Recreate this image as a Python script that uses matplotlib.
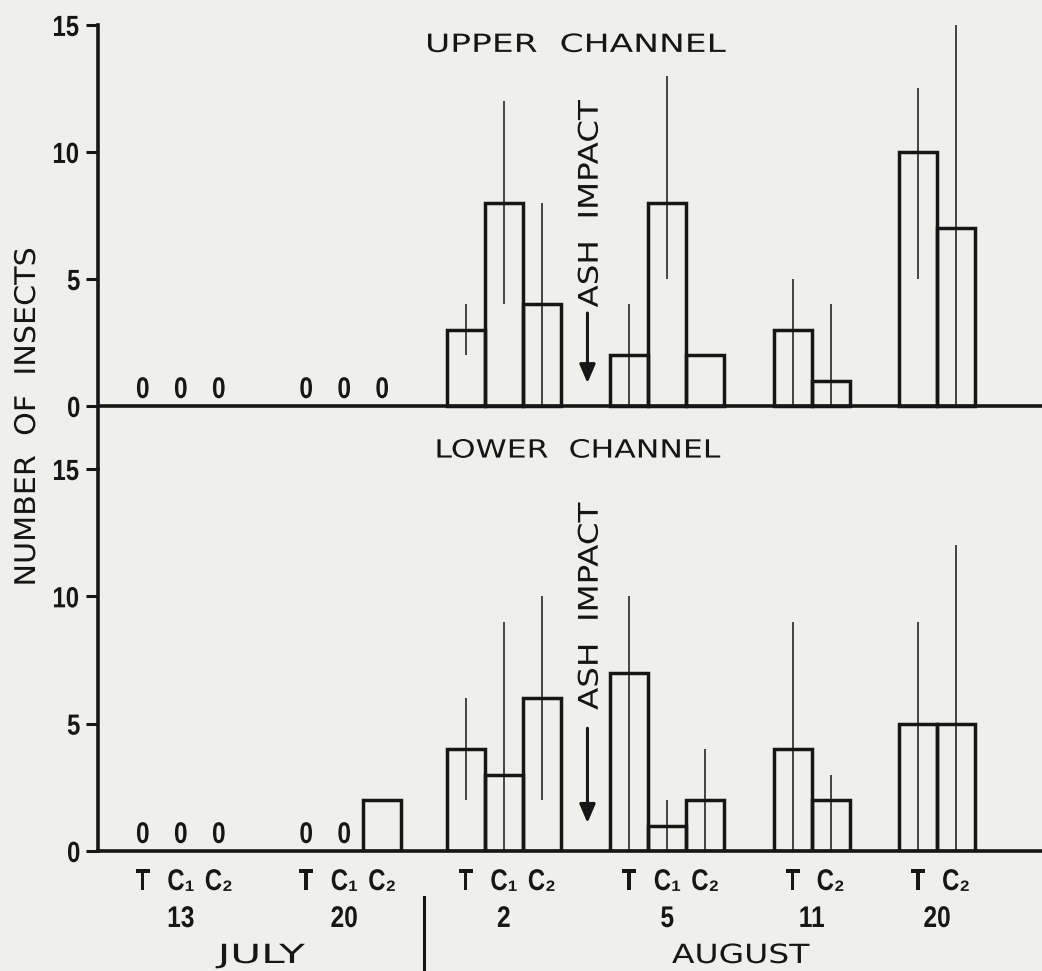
import numpy as np
import matplotlib
matplotlib.use('Agg')
import matplotlib.pyplot as plt
from matplotlib import patheffects
from matplotlib.transforms import Affine2D, blended_transform_factory

nan = np.nan

# sampling dates and the month each one falls in
dates = ['13', '20', '2', '5', '11', '20']
months = ['JULY', 'AUGUST']
date_month = [0, 0, 1, 1, 1, 1]
# streams sampled on each date (T = treated, C1 / C2 = controls)
streams = [['T', 'C₁', 'C₂']] * 4 + [['T', 'C₂']] * 2

# upper channel: mean count and the low / high end of the range line
upper_mean = [[0, 0, 0], [0, 0, 0], [3, 8, 4], [2, 8, 2], [3, 1], [10, 7]]
upper_low = [[nan] * 3, [nan] * 3, [2, 4, 0], [0, 5, nan], [0, 0], [5, 0]]
upper_high = [[nan] * 3, [nan] * 3, [4, 12, 8], [4, 13, nan], [5, 4], [12.5, 15]]

# lower channel
lower_mean = [[0, 0, 0], [0, 0, 2], [4, 3, 6], [7, 1, 2], [4, 2], [5, 5]]
lower_low = [[nan] * 3, [nan] * 3, [2, 0, 2], [0, 0, 0], [0, 0], [0, 0]]
lower_high = [[nan] * 3, [nan] * 3, [6, 9, 10], [10, 2, 4], [9, 3], [9, 12]]

# layout: x is measured in bar widths
GROUP_START = [0, 4.3, 8.5, 12.8, 17.1, 20.4]
XLIM = (-1.18, 23.66)
ASH_X = 11.7
MONTH_STRETCH = [1.6, 1.25]

INK = '#161616'
PAPER = '#efefeb'


class Stretch(patheffects.AbstractPathEffect):
    """Scale text along its baseline about its own centre."""

    def __init__(self, sx):
        super().__init__()
        self.sx = sx

    def draw_path(self, renderer, gc, tpath, affine, rgbFace=None):
        ext = tpath.get_extents()
        cx = (ext.x0 + ext.x1) / 2
        wide = Affine2D().translate(-cx, 0).scale(self.sx, 1).translate(cx, 0)
        renderer.draw_path(gc, tpath, wide + affine, rgbFace)


BOLD = dict(family=['Liberation Sans', 'DejaVu Sans'], fontweight='bold',
            fontsize=21.5, color=INK)
PLAIN = dict(family='DejaVu Sans', color=INK)

fig = plt.figure(figsize=(10.42, 9.71), dpi=100, facecolor=PAPER)
ax_up = fig.add_axes([0.094, 0.517, 0.906, 0.4573])
ax_lo = fig.add_axes([0.094, 0.1236, 0.906, 0.3934])

for ax in (ax_up, ax_lo):
    ax.set_facecolor('none')
    ax.set_xlim(*XLIM)
    ax.set_xticks([])
    ax.set_yticks([0, 5, 10, 15])
    ax.tick_params(axis='y', direction='out', length=8.6, width=2.2, pad=3,
                   color=INK)
    for lbl in ax.get_yticklabels():
        lbl.set_fontfamily(BOLD['family'])
        lbl.set_fontweight('bold')
        lbl.set_fontsize(21)
        lbl.set_color(INK)
        lbl.set_path_effects([Stretch(0.82)])
    for side in ('top', 'right'):
        ax.spines[side].set_visible(False)
    for side in ('left', 'bottom'):
        ax.spines[side].set_linewidth(2.6)
        ax.spines[side].set_color(INK)

# upper axes runs down to the lower one so the left axis reads as one line
ax_up.set_ylim(-2.48, 15)
ax_up.spines['bottom'].set_visible(False)
ax_up.axhline(0, color=INK, lw=2.6, zorder=4)
ax_lo.set_ylim(0, 15)
ax_lo.spines['bottom'].set_zorder(4)


def draw_channel(ax, means, lows, highs):
    for g, (m, lo, hi) in enumerate(zip(means, lows, highs)):
        xs = GROUP_START[g] + np.arange(len(m))
        for x, v, a, b in zip(xs, m, lo, hi):
            if v > 0:
                ax.bar(x, v, width=1.0, fill=False, edgecolor=INK,
                       linewidth=2.5, zorder=3)
            else:
                ax.annotate(f'{v:g}', xy=(x, v), xytext=(0, 8),
                            textcoords='offset pixels', ha='center',
                            va='baseline', path_effects=[Stretch(0.82)], **BOLD)
            if not np.isnan(a):
                ax.vlines(x, a, b, color=INK, lw=1.1, zorder=2)


draw_channel(ax_up, upper_mean, upper_low, upper_high)
draw_channel(ax_lo, lower_mean, lower_low, lower_high)

# channel titles
ax_up.text(11.4, 13.94, 'UPPER  CHANNEL', ha='center', va='baseline',
           fontsize=18, path_effects=[Stretch(1.38)], **PLAIN)
ax_lo.text(11.45, 15.45, 'LOWER  CHANNEL', ha='center', va='baseline',
           fontsize=18, clip_on=False, path_effects=[Stretch(1.26)], **PLAIN)

# ash impact markers
for ax, text_y, arrow_top, arrow_tip in ((ax_up, 7.95, 3.66, 0.9),
                                         (ax_lo, 9.6, 4.82, 1.1)):
    ax.text(ASH_X + 0.27, text_y, 'ASH  IMPACT', rotation=90,
            rotation_mode='anchor', ha='center', va='baseline', fontsize=19.5,
            path_effects=[Stretch(1.2)], **PLAIN)
    ax.annotate('', xy=(ASH_X, arrow_tip), xytext=(ASH_X, arrow_top),
                arrowprops=dict(arrowstyle='-|>,head_length=0.75,head_width=0.32',
                                lw=2.2, color=INK, shrinkA=0, shrinkB=0,
                                mutation_scale=15))

# stream, date and month labels under the lower channel
for g, names in enumerate(streams):
    xs = GROUP_START[g] + np.arange(len(names))
    for x, name in zip(xs, names):
        ax_lo.annotate(name, xy=(x, 0), xytext=(0, -39),
                       textcoords='offset pixels', ha='center', va='baseline',
                       path_effects=[Stretch(0.8)], **BOLD)
    ax_lo.annotate(dates[g], xy=(xs.mean(), 0), xytext=(0, -76),
                   textcoords='offset pixels', ha='center', va='baseline',
                   path_effects=[Stretch(0.82)], **BOLD)

sep_x = (GROUP_START[1] + len(streams[1]) - 1 + GROUP_START[2]) / 2
ax_lo.plot([sep_x, sep_x], [0, 0.076], color=INK, lw=2.2, clip_on=False,
           transform=blended_transform_factory(ax_lo.transData, fig.transFigure))
month_x = [(XLIM[0] + sep_x) / 2, (sep_x + XLIM[1]) / 2 + 0.2]
for x, name, sx in zip(month_x, months, MONTH_STRETCH):
    ax_lo.annotate(name, xy=(x, 0), xytext=(0, -112),
                   textcoords='offset pixels', ha='center', va='baseline',
                   fontsize=19, path_effects=[Stretch(sx)], **PLAIN)

fig.text(0.0336, 0.5705, 'NUMBER  OF  INSECTS', rotation=90,
         rotation_mode='anchor', ha='center', va='baseline', fontsize=20.5,
         path_effects=[Stretch(1.06)], **PLAIN)

fig.savefig('out.png', dpi=100, facecolor=PAPER)
